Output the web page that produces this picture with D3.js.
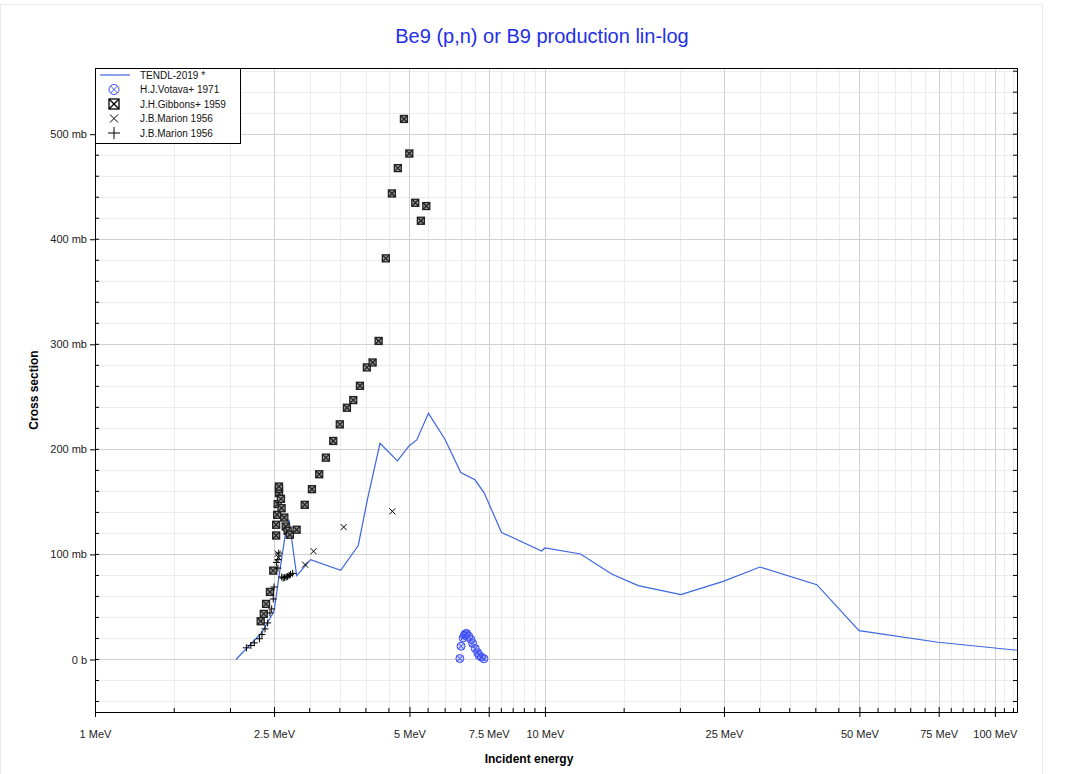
<!DOCTYPE html>
<html>
<head>
<meta charset="utf-8">
<script src="https://cdn.jsdelivr.net/npm/d3@7"></script>
<style>
  body { margin: 0; background: #fff; font-family: "Liberation Sans", Arial, sans-serif; }
</style>
</head>
<body>
<div id="container"></div>
<script>
// data (E in MeV, sigma in mb)
let tendlE = [2.057, 2.346, 2.50, 2.577, 2.644, 2.699, 2.807, 3.015, 3.516, 3.847, 4.03, 4.30, 4.70, 4.994, 5.19, 5.51, 5.995, 6.50, 6.99, 7.32, 8.01, 9.83, 10.0, 12.0, 14.07, 16.12, 20.05, 24.9, 30.05, 40.2, 49.9, 74.8, 113.6];
let tendlS = [0, 25.4, 45.9, 85.5, 117, 133, 79.8, 95, 84.8, 108.5, 152, 205.8, 189, 203.5, 209, 234.3, 209.6, 177.9, 171, 158.9, 120.9, 103.2, 106.1, 100.4, 81.4, 70.3, 61.7, 74.4, 88, 71.2, 27.5, 16.4, 8.5];

let votavaE = [6.47, 6.51, 6.58, 6.62, 6.66, 6.70, 6.77, 6.85, 6.91, 7.00, 7.09, 7.14, 7.23, 7.32];
let votavaS = [0.9, 12.6, 20.5, 23.1, 24.5, 24.7, 22.1, 19.0, 15.2, 10.4, 6.4, 3.8, 2.2, 0.7];

let gibbonsE = [2.335, 2.372, 2.40, 2.448, 2.49, 2.527, 2.527, 2.54, 2.547, 2.564, 2.564, 2.564, 2.59, 2.598, 2.635, 2.654, 2.68, 2.71, 2.806, 2.925, 3.035, 3.15, 3.26, 3.385, 3.50, 3.63, 3.75, 3.88, 4.02, 4.14, 4.27, 4.43, 4.57, 4.71, 4.86, 4.996, 5.15, 5.30, 5.45];
let gibbonsS = [36.4, 43.4, 52.9, 64.3, 84.6, 118, 128.2, 137.7, 147.9, 158.3, 162.4, 164.6, 152.9, 144, 135.1, 126.6, 122.5, 118.7, 123.5, 147.2, 162.1, 176.3, 192.1, 208, 223.8, 239.6, 246.9, 260.5, 278, 282.7, 303.2, 381.8, 443.6, 467.7, 514.5, 481.6, 434.7, 417.6, 431.6];

let marionXE = [2.55, 2.56, 2.93, 3.06, 3.57, 4.58];
let marionXS = [100.7, 97, 90.3, 103, 126, 141];

let marionPE = [2.17, 2.22, 2.26, 2.32, 2.35, 2.387, 2.42, 2.448, 2.47, 2.49, 2.50, 2.53, 2.55, 2.55, 2.56, 2.60, 2.62, 2.64, 2.66, 2.68, 2.70, 2.72, 2.75];
let marionPS = [11.1, 13.3, 15.8, 19.7, 23.7, 29.1, 34.8, 44.3, 48.1, 57.6, 69, 92.4, 95, 87, 101.3, 78.5, 77.5, 78, 78.5, 79, 80, 81, 82];

let xMajor = [1, 2.5, 5, 7.5, 10, 25, 50, 75, 100];
let xMajorLabels = ["1 MeV", "2.5 MeV", "5 MeV", "7.5 MeV", "10 MeV", "25 MeV", "50 MeV", "75 MeV", "100 MeV"];
let xMinor = [1.5, 2, 3, 3.5, 4, 4.5, 5.5, 6, 6.5, 7, 8, 8.5, 9, 9.5, 15, 20, 30, 35, 40, 45, 55, 60, 65, 70, 80, 85, 90, 95, 105, 110];
let yMajor = [0, 100, 200, 300, 400, 500];
let yMajorLabels = ["0 b", "100 mb", "200 mb", "300 mb", "400 mb", "500 mb"];
let yMinor = [-40, -20, 20, 40, 60, 80, 120, 140, 160, 180, 220, 240, 260, 280, 320, 340, 360, 380, 420, 440, 460, 480, 520, 540, 560];

let legendNames = ["TENDL-2019 *", "H.J.Votava+ 1971", "J.H.Gibbons+ 1959", "J.B.Marion 1956", "J.B.Marion 1956"];

//Width and height
let w = 1067;
let h = 774;
let pLeft = 95, pRight = 1017, pTop = 68, pBottom = 712;

let blue = "#3d66e0";
let markBlue = "#3b4cf5";

let x = d3.scaleLog().domain([1, 112]).range([pLeft, pRight]);
let y = d3.scaleLinear().domain([-50, 563]).range([pBottom, pTop]);

let svg = d3.select("#container")
  .append("svg")
  .attr("width", w)
  .attr("height", h)
  .style("font-family", "'Liberation Sans', Arial, sans-serif");

// outer frame
svg.append("rect")
  .attr("x", 0.5).attr("y", 4.5)
  .attr("width", 1042).attr("height", 780)
  .attr("fill", "none").attr("stroke", "#ebebeb");

// title
svg.append("text")
  .attr("x", 542).attr("y", 43)
  .attr("text-anchor", "middle")
  .attr("font-size", 20)
  .attr("fill", "#1f2ee8")
  .text("Be9 (p,n) or B9 production lin-log");

// grid
let grid = svg.append("g");
grid.selectAll(".xmin").data(xMinor).enter().append("line")
  .attr("x1", d => Math.round(x(d)) + 0.5).attr("x2", d => Math.round(x(d)) + 0.5)
  .attr("y1", pTop).attr("y2", pBottom)
  .attr("stroke", "#ececec");
grid.selectAll(".ymin").data(yMinor).enter().append("line")
  .attr("y1", d => Math.round(y(d)) + 0.5).attr("y2", d => Math.round(y(d)) + 0.5)
  .attr("x1", pLeft).attr("x2", pRight)
  .attr("stroke", "#ececec");
grid.selectAll(".xmaj").data(xMajor).enter().append("line")
  .attr("x1", d => Math.round(x(d)) + 0.5).attr("x2", d => Math.round(x(d)) + 0.5)
  .attr("y1", pTop).attr("y2", pBottom)
  .attr("stroke", "#d0d0d0");
grid.selectAll(".ymaj").data(yMajor).enter().append("line")
  .attr("y1", d => Math.round(y(d)) + 0.5).attr("y2", d => Math.round(y(d)) + 0.5)
  .attr("x1", pLeft).attr("x2", pRight)
  .attr("stroke", "#d0d0d0");

// axes
let xAxis = d3.axisBottom(x).tickValues(xMajor).tickSize(5)
  .tickFormat((d, i) => xMajorLabels[i]);
let gx = svg.append("g").attr("transform", `translate(0,${pBottom})`).call(xAxis);
gx.select(".domain").remove();
gx.selectAll(".tick line").attr("y1", -5).attr("stroke", "#000");
gx.selectAll(".tick text").attr("font-size", 11).attr("fill", "#222").attr("dy", "1.6em")
  .style("font-family", "'Liberation Sans', Arial, sans-serif");
svg.append("g").selectAll("line").data(xMinor).enter().append("line")
  .attr("x1", d => x(d)).attr("x2", d => x(d))
  .attr("y1", pBottom).attr("y2", pBottom - 4)
  .attr("stroke", "#000");

let yAxis = d3.axisLeft(y).tickValues(yMajor).tickSize(5)
  .tickFormat((d, i) => yMajorLabels[i]);
let gy = svg.append("g").attr("transform", `translate(${pLeft},0)`).call(yAxis);
gy.select(".domain").remove();
gy.selectAll(".tick line").attr("stroke", "#000");
gy.selectAll(".tick text").attr("font-size", 11).attr("fill", "#222")
  .style("font-family", "'Liberation Sans', Arial, sans-serif");
svg.append("g").selectAll("line").data(yMinor.concat(yMajor)).enter().append("line")
  .attr("x1", pLeft).attr("x2", pLeft + 4)
  .attr("y1", d => y(d)).attr("y2", d => y(d))
  .attr("stroke", "#000");
svg.append("g").selectAll("line").data(yMinor.concat(yMajor)).enter().append("line")
  .attr("x1", pRight).attr("x2", pRight - 4)
  .attr("y1", d => y(d)).attr("y2", d => y(d))
  .attr("stroke", "#000");

// axis titles
svg.append("text")
  .attr("transform", "translate(38,390) rotate(-90)")
  .attr("text-anchor", "middle")
  .attr("font-size", 12).attr("font-weight", "bold")
  .text("Cross section");
svg.append("text")
  .attr("x", 529).attr("y", 763)
  .attr("text-anchor", "middle")
  .attr("font-size", 12).attr("font-weight", "bold")
  .text("Incident energy");

// plot clip
svg.append("clipPath").attr("id", "clip")
  .append("rect").attr("x", pLeft).attr("y", pTop)
  .attr("width", pRight - pLeft).attr("height", pBottom - pTop);
let plot = svg.append("g").attr("clip-path", "url(#clip)");

// TENDL line
let line = d3.line().x(d => x(d[0])).y(d => y(d[1]));
plot.append("path")
  .datum(d3.zip(tendlE, tendlS))
  .attr("d", line)
  .attr("fill", "none")
  .attr("stroke", blue)
  .attr("stroke-width", 1.2);

// marker drawers
function circX(g, c, fill) {
  g.append("circle").attr("r", 4).attr("fill", fill).attr("stroke", c);
  g.append("path").attr("d", "M-2.8,-2.8L2.8,2.8M-2.8,2.8L2.8,-2.8").attr("stroke", c);
}
function boxX(g, c, s, fill) {
  g.append("rect").attr("x", -s).attr("y", -s).attr("width", 2 * s).attr("height", 2 * s)
    .attr("fill", fill).attr("stroke", c).attr("stroke-width", 1.3);
  g.append("path").attr("d", `M${-s},${-s}L${s},${s}M${-s},${s}L${s},${-s}`).attr("stroke", c).attr("stroke-width", 1.3);
}
function cross(g, c, s) {
  g.append("path").attr("d", `M${-s},${-s}L${s},${s}M${-s},${s}L${s},${-s}`).attr("stroke", c);
}
function plus(g, c, s) {
  g.append("path").attr("d", `M${-s},0L${s},0M0,${-s}L0,${s}`).attr("stroke", c);
}

function drawSeries(E, S, fn) {
  plot.append("g").selectAll("g")
    .data(d3.zip(E, S))
    .enter().append("g")
    .attr("transform", d => `translate(${x(d[0])},${y(d[1])})`)
    .each(function () { fn(d3.select(this)); });
}

drawSeries(gibbonsE, gibbonsS, g => boxX(g, "#222", 3.5, "#999"));
drawSeries(marionXE, marionXS, g => cross(g, "#000", 3));
drawSeries(marionPE, marionPS, g => plus(g, "#000", 3.5));
drawSeries(votavaE, votavaS, g => circX(g, markBlue, "rgba(90,110,250,0.3)"));

// plot border
svg.append("rect")
  .attr("x", pLeft + 0.5).attr("y", pTop + 0.5)
  .attr("width", pRight - pLeft).attr("height", pBottom - pTop)
  .attr("fill", "none").attr("stroke", "#000");

// legend
let lg = svg.append("g");
lg.append("rect")
  .attr("x", pLeft + 0.5).attr("y", pTop + 0.5)
  .attr("width", 145).attr("height", 75)
  .attr("fill", "#fff").attr("stroke", "#000");
legendNames.forEach(function (name, i) {
  let ly = pTop + 7 + i * 14.5;
  let sym = lg.append("g").attr("transform", `translate(114,${ly})`);
  if (i == 0) sym.append("line").attr("x1", -14).attr("x2", 16).attr("stroke", blue).attr("stroke-width", 1.2);
  if (i == 1) { sym.append("circle").attr("r", 5).attr("fill", "none").attr("stroke", markBlue);
    sym.append("path").attr("d", "M-3.5,-3.5L3.5,3.5M-3.5,3.5L3.5,-3.5").attr("stroke", markBlue); }
  if (i == 2) boxX(sym, "#000", 5, "#fff");
  if (i == 3) cross(sym, "#000", 4);
  if (i == 4) plus(sym, "#000", 6);
  lg.append("text")
    .attr("x", 140).attr("y", ly + 3.5)
    .attr("font-size", 10).attr("fill", "#111")
    .text(name);
});
</script>
</body>
</html>
